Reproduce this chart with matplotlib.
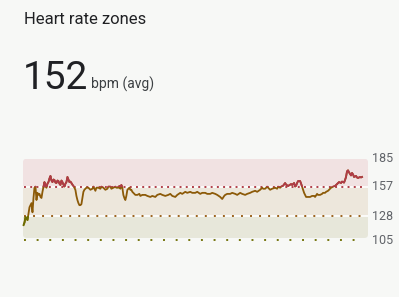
import matplotlib
matplotlib.use("Agg")
import matplotlib.pyplot as plt
from matplotlib.patches import Rectangle, FancyBboxPatch

# ---- data ----
title = "Heart rate zones"
avg_value = "152"
avg_unit = "bpm (avg)"
zone_bounds = [105, 128, 157, 185]
zone_labels = ["105", "128", "157", "185"]

t_min = [0, 1, 2, 3, 4, 5, 6, 7, 8, 9, 10, 11, 12, 13, 14, 15, 16, 17, 18, 19,
         20, 21, 22, 23, 24, 25, 26, 27, 28, 29, 30, 31, 32, 33, 34, 35, 36, 37, 38, 39,
         40, 41, 42, 43, 44, 45, 46, 47, 48, 49, 50, 51, 52, 53, 54, 55, 56, 57, 58, 59,
         60, 61, 62, 63, 65, 67, 69, 70, 72, 73, 75, 77, 78, 80, 82, 84, 85, 87, 88, 90,
         92, 93, 95, 96, 97, 98, 99, 100, 101, 102, 103, 104, 105, 106, 107, 108, 109, 110, 111, 112,
         114, 116, 117, 119, 122, 124, 127, 129, 132, 134, 137, 139, 142, 145, 147, 149, 152, 154, 157, 159,
         162, 164, 167, 169, 172, 174, 177, 179, 182, 184, 187, 189, 192, 194, 197, 199, 201, 202, 204, 207,
         209, 212, 214, 217, 219, 222, 224, 227, 229, 232, 234, 237, 239, 240, 242, 244, 245, 247, 249, 252,
         254, 255, 257, 258, 260, 262, 263, 265, 267, 268, 269, 271, 272, 273, 274, 275, 277, 278, 279, 280,
         281, 282, 283, 285, 287, 289, 291, 292, 294, 295, 297, 299, 300, 302, 303, 305, 306, 308, 310, 312,
         314, 315, 316, 318, 319, 320, 321, 322, 323, 324, 325, 326, 327, 328, 329, 330, 331, 332, 333, 334,
         335, 336, 337, 338, 339]
hr_bpm = [119.6, 122, 127.5, 126, 124.5, 131, 137, 139, 141, 132, 146, 156, 157, 144, 151, 149, 150, 147, 146, 152,
          157, 161.5, 158, 156, 160, 161.5, 165, 167.5, 163, 161.5, 164, 163.5, 161, 160.6, 163, 162.5, 160, 158.7, 163, 161.5,
          159, 157, 160, 161.5, 166.5, 164, 161.5, 162, 160.6, 159, 157.7, 156, 153.8, 148, 144, 141, 139, 139, 140, 146,
          152, 154, 155, 156, 156, 154, 155, 157, 153, 156, 156, 155, 157, 156, 154, 155, 157, 157, 155, 156,
          157, 156, 156, 157.7, 155, 158.7, 156, 149, 146, 144, 148, 153.8, 155, 156, 154, 154, 152, 151, 150, 149,
          149, 150, 148, 149, 149, 148, 147, 148, 147, 149, 150, 149, 148, 149, 150, 148, 147, 149, 151, 150,
          152, 151, 152, 151, 151, 152, 150, 151, 151, 150, 150, 151, 150, 149, 147, 145, 148, 149, 150, 150,
          151, 150, 149, 151, 150, 149, 150, 151, 152, 153, 152, 154, 156, 155, 155, 157, 156, 154, 155, 156,
          155, 157, 156, 157, 158, 160.6, 159, 157.7, 159, 159.6, 158.7, 160.6, 157, 158, 160.6, 162.5, 162.5, 160, 157, 154,
          151, 149, 147, 147, 147, 148, 148, 147, 150, 149, 149, 150, 151, 151, 152, 153, 154, 156, 157, 157.7,
          159.6, 160.5, 161.5, 160.6, 162, 161.5, 161, 163.5, 166.5, 172, 173, 171, 169.5, 168, 170.4, 169, 166.5, 167, 167.5, 166,
          165.5, 166, 166.5, 166, 166.5]

# ---- style ----
page_bg = "#f7f8f6"
c_red = "#b03a48"
c_brown = "#8c5a08"
c_green = "#6b6e00"

W, H = 399, 297
fig = plt.figure(figsize=(W / 100, H / 100), dpi=100, facecolor=page_bg)

# axes placement (pixels)
ax_l, ax_r = 23, 368
ymin, ymax = 103, 186
px_per = 1.025
top_px = 158 - (ymax - 185) * px_per
bot_px = 158 + (185 - ymin) * px_per
ax = fig.add_axes([ax_l / W, 1 - bot_px / H, (ax_r - ax_l) / W, (bot_px - top_px) / H])
ax.set_facecolor("none")
ax.set_xlim(-0.5, 345)
ax.set_ylim(ymin, ymax)
for s in ax.spines.values():
    s.set_visible(False)
ax.set_xticks([])
ax.set_yticks([])

# rounded clip for zone bands
ax_w_px = ax_r - ax_l
ax_h_px = bot_px - top_px
y_top_band = 184.2
y_bot_band = 107
yb0 = (y_bot_band - ymin) / (ymax - ymin)
yb1 = (y_top_band - ymin) / (ymax - ymin)
clip = FancyBboxPatch((0, yb0), 1, yb1 - yb0,
                      boxstyle="round,pad=0,rounding_size=%f" % (3.5 / ax_w_px),
                      mutation_aspect=ax_w_px / ax_h_px,
                      transform=ax.transAxes, facecolor="none", edgecolor="none")
ax.add_patch(clip)

bands = [(y_bot_band, zone_bounds[1], "#e7e7da"),
         (zone_bounds[1], zone_bounds[2], "#ede7dc"),
         (zone_bounds[2], y_top_band, "#f1e2e2")]
for lo, hi, col in bands:
    sp = ax.axhspan(lo, hi, color=col, lw=0, zorder=0)
    sp.set_clip_path(clip)

# white separators
for yv in zone_bounds[1:3]:
    ax.axhline(yv, color="white", lw=1.2, zorder=1)

# dotted lines
ax.axhline(zone_bounds[2], color="#b2404a", lw=1.4, zorder=2,
           linestyle=(0, (1, 2.2)), xmin=0.003, xmax=0.99)
ax.axhline(zone_bounds[1], color="#9c621c", lw=1.4, zorder=2,
           linestyle=(0, (1, 3.65)), xmin=0.003, xmax=0.99)
ax.axhline(zone_bounds[0], color="#767610", lw=1.4, zorder=2,
           linestyle=(0, (1, 5.5)), xmin=0.003, xmax=0.99)

# heart rate line, coloured by zone
lw = 1.3
ax.plot(t_min, hr_bpm, color=c_brown, lw=lw, zorder=3, solid_joinstyle="round")
l_red, = ax.plot(t_min, hr_bpm, color=c_red, lw=lw, zorder=4, solid_joinstyle="round")
l_red.set_clip_path(Rectangle((-10, zone_bounds[2]), 400, 100, transform=ax.transData))
l_grn, = ax.plot(t_min, hr_bpm, color=c_green, lw=lw, zorder=4, solid_joinstyle="round")
l_grn.set_clip_path(Rectangle((-10, 0), 400, zone_bounds[1], transform=ax.transData))

# right labels
for v, lab in zip(zone_bounds, zone_labels):
    ax.annotate(lab, xy=(1, v), xycoords=("axes fraction", "data"),
                xytext=(3, 0), textcoords="offset points",
                ha="left", va="center", fontsize=9, color="#606368",
                family="Roboto", annotation_clip=False)

# header texts
fig.text(24 / W, 1 - 20 / H, title, ha="left", va="center", fontsize=12,
         color="#202124", family="Roboto")
fig.text(23 / W, 1 - 89 / H, avg_value, ha="left", va="baseline", fontsize=28,
         color="#202124", family="Roboto")
fig.text(91 / W, 1 - 89 / H, avg_unit, ha="left", va="baseline", fontsize=10,
         color="#3c4043", family="Roboto")

fig.savefig("out.png", dpi=100, facecolor=page_bg)
